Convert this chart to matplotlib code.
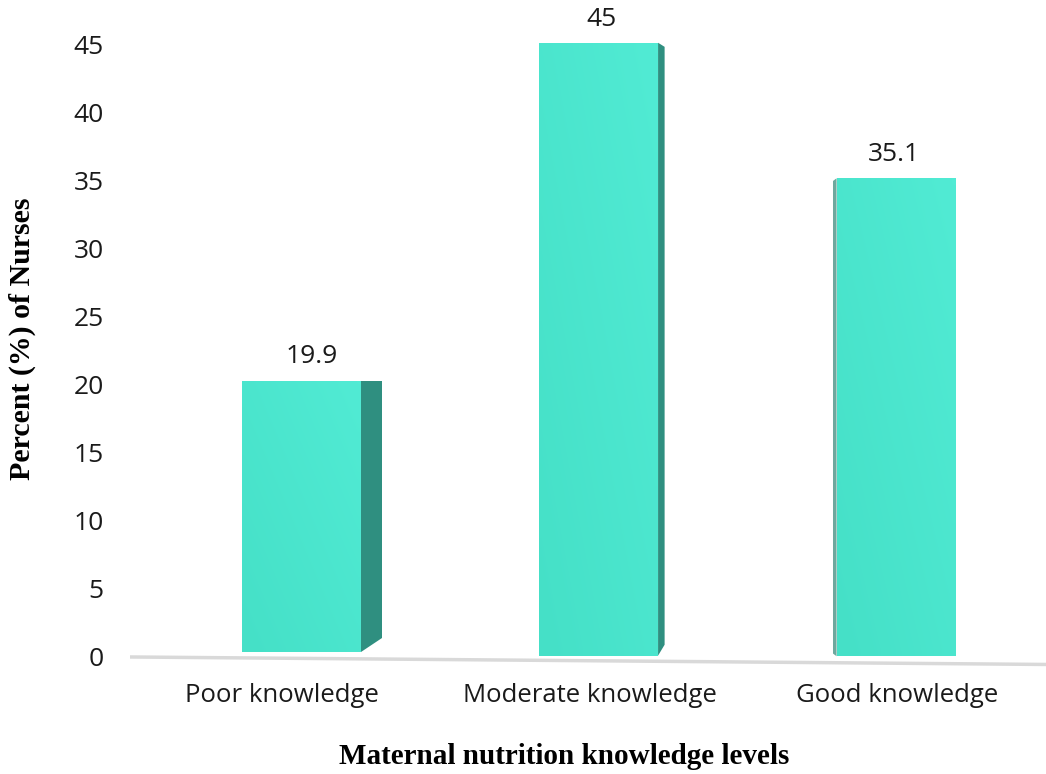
import numpy as np
import matplotlib.pyplot as plt
from matplotlib.patches import Polygon
from matplotlib.colors import LinearSegmentedColormap

levels = ['Poor knowledge', 'Moderate knowledge', 'Good knowledge']
percents = [19.9, 45, 35.1]
y_ticks = [0, 5, 10, 15, 20, 25, 30, 35, 40, 45]

side_color = '#2f8f80'
edge_color = '#6fa89e'
face_cmap = LinearSegmentedColormap.from_list('face', ['#45e0c7', '#51ebd4'])

fig = plt.figure(figsize=(10.46, 7.74), dpi=100)
ax = fig.add_axes([0.1243, 0.1336, 0.8757, 0.8446])

width = 0.4
# small lift of each bar above the floor, plus depth of the side face
bases = [0.4, 0.1, 0.05]
depth = [0.072, 0.022, -0.012]
top_drop = [0.0, 0.3, 0.0]
bottom_rise = [1.0, 0.8, 0.0]

x = list(range(len(levels)))
bars = ax.bar(x, percents, width=width, bottom=bases, color='#48e3cb',
              edgecolor='none', zorder=3)

# soft diagonal shading on each front face
grad = np.add.outer(np.linspace(1, 0, 60), np.linspace(0, 1, 20)) / 2
for b in bars:
    im = ax.imshow(grad, cmap=face_cmap, aspect='auto', zorder=3.5,
                   extent=(b.get_x(), b.get_x() + b.get_width(),
                           b.get_y(), b.get_y() + b.get_height()),
                   origin='upper', interpolation='bilinear')
    im.set_clip_path(b)

for i, v in enumerate(percents):
    top = bases[i] + v
    if depth[i] > 0:
        xe = x[i] + width / 2
        side = Polygon([(xe, bases[i]), (xe, top),
                        (xe + depth[i], top - top_drop[i]),
                        (xe + depth[i], bases[i] + bottom_rise[i])],
                       closed=True, facecolor=side_color, edgecolor='none', zorder=2)
    else:
        xe = x[i] - width / 2
        side = Polygon([(xe, bases[i]), (xe, top),
                        (xe + depth[i], top - 0.2),
                        (xe + depth[i], bases[i] + 0.2)],
                       closed=True, facecolor=edge_color, edgecolor='none', zorder=2)
    ax.add_patch(side)
    ax.annotate(f'{v:g}', xy=(x[i] + depth[i] / 2, top), xytext=(0, 17),
                textcoords='offset points', ha='center', va='center',
                fontsize=19, family='Open Sans', color='#1a1a1a')

# slightly tilted floor line
ax.plot([-0.575, 2.504], [0, -0.55], color='#d9d9d9', lw=2.5, zorder=1,
        solid_capstyle='butt')

ax.set_xlim(-0.575, 2.504)
ax.set_ylim(-1, 47)
ax.set_xticks([0 - 0.065, 1 - 0.03, 2 + 0.005])
ax.set_xticklabels(levels, fontsize=18.5, family='Open Sans')
ax.set_yticks(y_ticks)
ax.set_yticklabels([str(t) for t in y_ticks], fontsize=19, family='Open Sans')
ax.tick_params(axis='both', length=0, colors='#1a1a1a')
ax.tick_params(axis='x', pad=9)
ax.tick_params(axis='y', pad=19)
for s in ax.spines.values():
    s.set_visible(False)

fig.text(564 / 1046, 1 - 757 / 774, 'Maternal nutrition knowledge levels',
         ha='center', va='center', fontsize=21, fontweight='bold',
         family='Liberation Serif')
fig.text(22 / 1046, 1 - 339 / 774, 'Percent (%) of Nurses', rotation=90,
         ha='center', va='center', fontsize=21.5, fontweight='bold',
         family='Liberation Serif')

fig.savefig('out.png', dpi=100)
